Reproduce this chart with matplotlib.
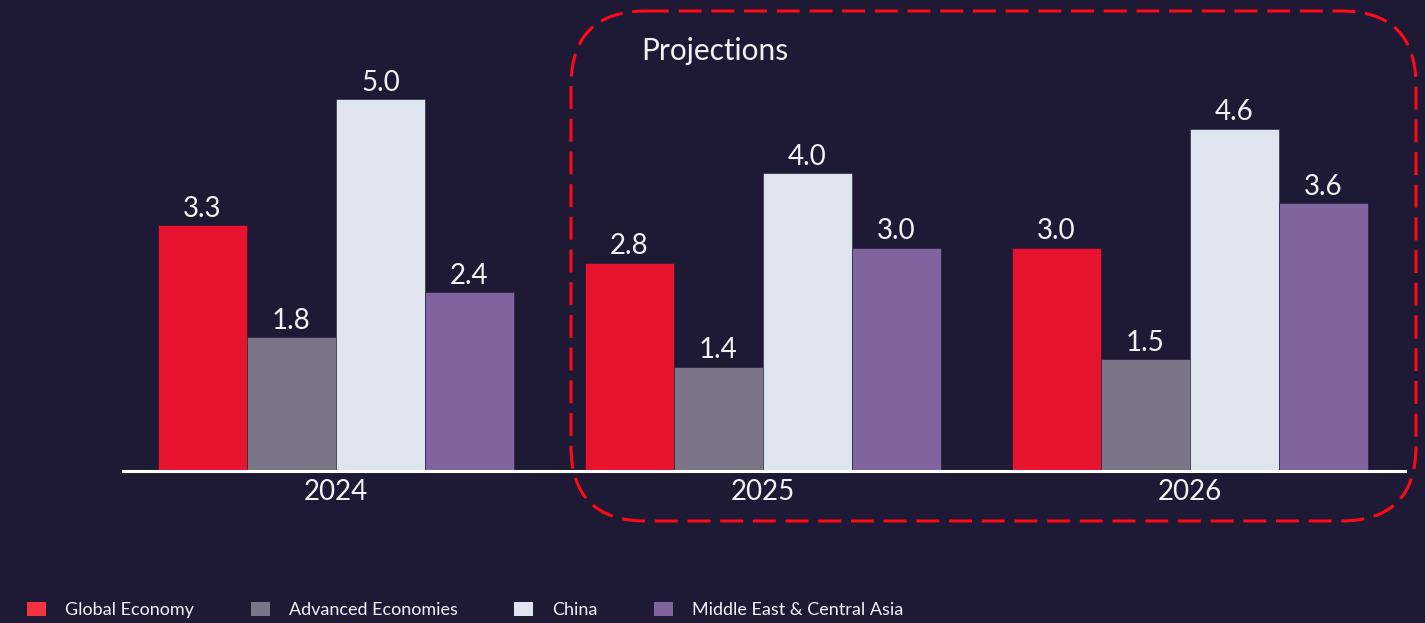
import matplotlib
matplotlib.use("Agg")
import matplotlib.pyplot as plt
import numpy as np
from matplotlib.patches import FancyBboxPatch, Patch

years = ["2024", "2025", "2026"]
series = ["Global Economy", "Advanced Economies", "China", "Middle East & Central Asia"]
global_economy = [3.3, 2.8, 3.0]
advanced_economies = [1.8, 1.4, 1.5]
china = [5.0, 4.0, 4.6]
mena_ca = [2.4, 3.0, 3.6]
values = [global_economy, advanced_economies, china, mena_ca]
colors = ["#E8132F", "#7A7587", "#DFE5EE", "#8064A0"]
legend_colors = ["#F5333F", "#7A7587", "#DFE5EE", "#8064A0"]

BG = "#1E1A35"
TXT = "#F2F2F6"
W, H = 1425, 623

plt.rcParams['font.family'] = ['Lato', 'DejaVu Sans']
fig = plt.figure(figsize=(W / 100, H / 100), dpi=100, facecolor=BG)

ax = fig.add_axes([123 / W, (H - 471) / H, (1405 - 123) / W, (471 - 11) / H])
ax.set_facecolor(BG)
x = np.arange(len(years))
bw = 0.2084
for i, (vals, c) in enumerate(zip(values, colors)):
    bars = ax.bar(x + (i - 1.5) * bw, vals, width=bw, color=c,
                  edgecolor=BG, linewidth=0.4, label=series[i], zorder=2)
    for b, v in zip(bars, vals):
        ax.annotate(f"{v:.1f}", (b.get_x() + b.get_width() / 2, v),
                    xytext=(0, 2.5), textcoords="offset points",
                    ha="center", va="bottom", color=TXT, fontsize=20)

ax.set_xlim(-0.4988, 2.5035)
ax.set_ylim(0, 460 / 74.4)
for s in ["top", "right", "left"]:
    ax.spines[s].set_visible(False)
ax.spines["bottom"].set_color("#FFFFFF")
ax.spines["bottom"].set_linewidth(2.2)
ax.spines["bottom"].set_zorder(3)
ax.set_yticks([])
ax.set_xticks(x)
ax.set_xticklabels(years, color=TXT, fontsize=20)
ax.tick_params(axis="x", length=0, pad=6)

# overlay in pixel units
ov = fig.add_axes([0, 0, 1, 1], facecolor="none")
ov.set_xlim(0, W)
ov.set_ylim(H, 0)
ov.axis("off")
box = FancyBboxPatch((571, 11), 845, 510, boxstyle="round,pad=0,rounding_size=75",
                     fill=False, edgecolor="#FF0A14", linewidth=2.2,
                     linestyle=(0, (7.5, 3.2)))
ov.add_patch(box)
ov.text(641, 60, "Projections", color=TXT, fontsize=21.5, ha="left", va="baseline")

handles = [Patch(facecolor=c, edgecolor="none") for c in legend_colors]
fig.legend(handles, series, loc="center left", bbox_to_anchor=(27 / W, 13 / H),
           ncol=4, frameon=False, fontsize=13, labelcolor=TXT,
           handlelength=1.05, handleheight=0.78, handletextpad=1.05,
           columnspacing=3.15, borderaxespad=0.0, borderpad=0.0)

fig.savefig("out.png", dpi=100, facecolor=BG)
